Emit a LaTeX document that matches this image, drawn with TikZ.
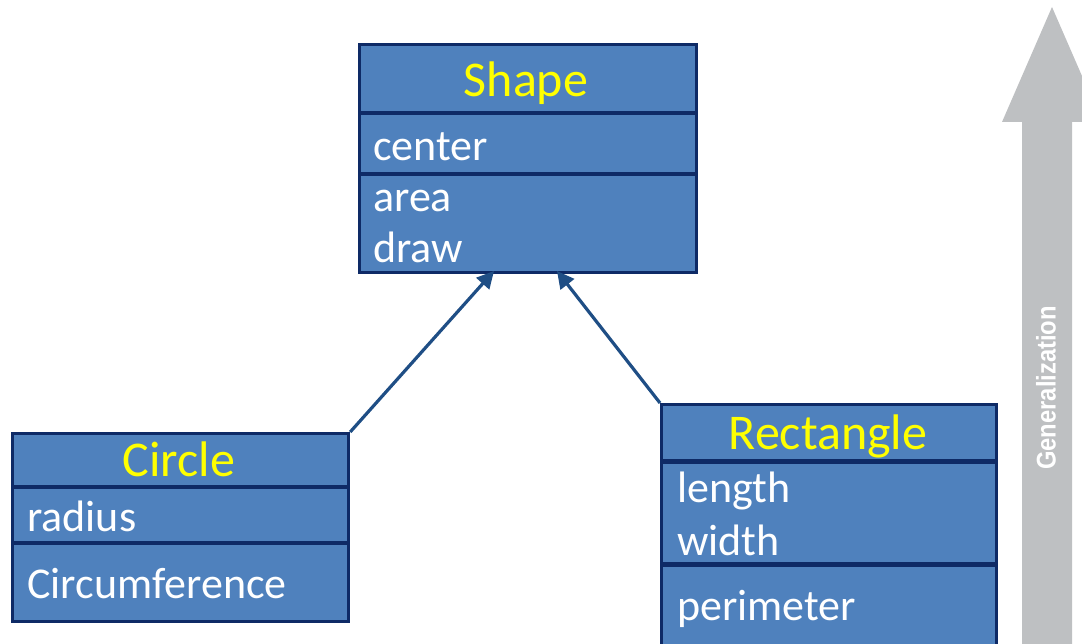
\documentclass[tikz,border=0pt]{standalone}
\usepackage{fontspec}
\setmainfont{Carlito}
\newfontfamily\genfont{Liberation Sans}
\usetikzlibrary{arrows.meta}
\definecolor{boxfill}{HTML}{4F81BD}
\definecolor{boxline}{HTML}{0E2A66}
\definecolor{arrowcol}{HTML}{1F4E85}
\definecolor{titlecol}{HTML}{FFFF00}
\definecolor{gengray}{HTML}{BEC0C2}
\tikzset{
  umlbox/.style={draw=boxline, fill=boxfill, line width=3.2pt, inner sep=0pt, anchor=north west},
  divider/.style={draw=boxline, line width=3.2pt},
  thickdivider/.style={draw=boxline, line width=5pt},
  titletext/.style={text=titlecol, font=\fontsize{50}{60}\selectfont, inner sep=0pt, anchor=base},
  attrtext/.style={text=white, font=\fontsize{44}{52}\selectfont, inner sep=0pt, anchor=base west},
  inherit/.style={draw=arrowcol, line width=3.2pt, -{Triangle[length=17pt,width=17pt]}},
}
\begin{document}
\begin{tikzpicture}[x=1pt,y=-1pt]
\useasboundingbox (0,0) rectangle (1082,644);
\clip (0,0) rectangle (1082,644);
% Generalization arrow
\fill[gengray] (1022,644) -- (1022,122) -- (1002,122) -- (1052,7) -- (1102,122) -- (1072,122) -- (1072,644) -- cycle;
\node[rotate=90, text=white, font=\genfont\bfseries\fontsize{27}{30}\selectfont, inner sep=0pt] (gen) at (1046,388) {\scalebox{0.88}[1]{Generalization}};

% Shape box
\node[umlbox, minimum width=337pt, minimum height=228pt] (shape) at (358,43) {};
\coordinate (sd1l) at (358,113); \coordinate (sd1r) at (695,113);
\coordinate (sd2l) at (358,174); \coordinate (sd2r) at (695,174);
\draw[divider] (sd1l) -- (sd1r);
\draw[divider] (sd2l) -- (sd2r);
\node[titletext] (shapet) at (526,97) {Shape};
\node[attrtext] (center) at (373,161) {center};
\node[attrtext] (area) at (373,212) {area};
\node[attrtext] (drawop) at (373,263) {draw};

% Circle box
\node[umlbox, minimum width=336pt, minimum height=188pt] (circle) at (11,432) {};
\coordinate (cd1l) at (11,487); \coordinate (cd1r) at (347,487);
\coordinate (cd2l) at (11,543); \coordinate (cd2r) at (347,543);
\draw[divider] (cd1l) -- (cd1r);
\draw[divider] (cd2l) -- (cd2r);
\node[titletext] (circlet) at (179,476) {Circle};
\node[attrtext] (radius) at (27,531) {radius};
\node[attrtext] (circum) at (27,598) {Circumference};

% Rectangle box
\node[umlbox, minimum width=335pt, minimum height=250pt] (rect) at (660,403) {};
\coordinate (rd1l) at (660,461); \coordinate (rd1r) at (995,461);
\coordinate (rd2l) at (660,564); \coordinate (rd2r) at (995,564);
\draw[thickdivider] (rd1l) -- (rd1r);
\draw[thickdivider] (rd2l) -- (rd2r);
\node[titletext] (rectt) at (828,449) {Rectangle};
\node[attrtext] (length) at (677,502) {length};
\node[attrtext] (width) at (677,555) {width};
\node[attrtext] (perim) at (677,620) {perimeter};

% Generalization connectors
\coordinate (ctip) at (494,271);
\coordinate (rtip) at (557,271);
\draw[inherit] (circle.north east) -- (ctip);
\draw[inherit] (rect.north west) -- (rtip);
\end{tikzpicture}
\end{document}
